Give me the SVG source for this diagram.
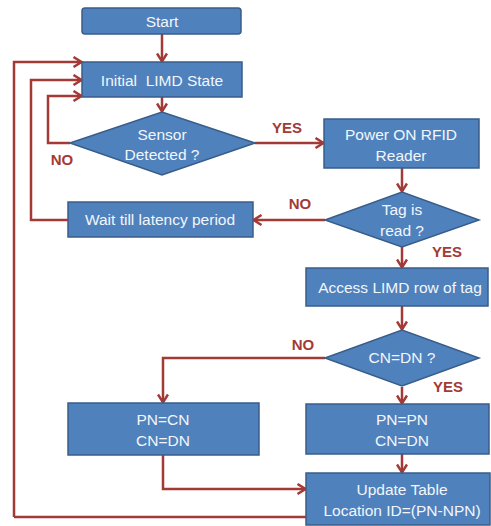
<svg xmlns="http://www.w3.org/2000/svg" width="491" height="526" viewBox="0 0 491 526">
<style>
.box{fill:#4F81BD;stroke:#385D8A;stroke-width:1.5}
.t{font-family:"Liberation Sans",Arial,sans-serif;font-size:15.5px;fill:#F2F6FB;text-anchor:middle}
.lbl{font-family:"Liberation Sans",Arial,sans-serif;font-size:15px;font-weight:bold;fill:#A33A36;text-anchor:middle}
.c{fill:none;stroke:#A33A36;stroke-width:2.5}
</style>
<defs>
<marker id="ah" markerWidth="12" markerHeight="12" refX="9" refY="6" orient="auto" markerUnits="userSpaceOnUse">
<path d="M1.5,1 L9.5,6 L1.5,11" fill="none" stroke="#A33A36" stroke-width="2.5"/>
</marker>
</defs>
<g id="connectors">
<path class="c" d="M162,34 V61" marker-end="url(#ah)"/>
<path class="c" d="M14,517 V62 H81" marker-end="url(#ah)"/>
<path class="c" d="M306,517 H14"/>
<path class="c" d="M68,220 H31 V80 H81" marker-end="url(#ah)"/>
<path class="c" d="M70,143 H48 V96 H81" marker-end="url(#ah)"/>
<path class="c" d="M162,97 V111" marker-end="url(#ah)"/>
<path class="c" d="M255,143 H323" marker-end="url(#ah)"/>
<path class="c" d="M402,168 V191" marker-end="url(#ah)"/>
<path class="c" d="M325,220 H254" marker-end="url(#ah)"/>
<path class="c" d="M402,247 V267" marker-end="url(#ah)"/>
<path class="c" d="M402,306 V329" marker-end="url(#ah)"/>
<path class="c" d="M325,358 H163 V402" marker-end="url(#ah)"/>
<path class="c" d="M402,387 V403" marker-end="url(#ah)"/>
<path class="c" d="M402,454 V472" marker-end="url(#ah)"/>
<path class="c" d="M163,455 V489 H305" marker-end="url(#ah)"/>
</g>
<g id="start"><rect class="box" x="82" y="8" width="159" height="26" rx="3"/><text class="t" x="162" y="27" font-size="18">Start</text></g>
<g id="initial"><rect class="box" x="82" y="62" width="160" height="35"/><text class="t" x="162" y="86" font-size="17.5" xml:space="preserve">Initial  LIMD State</text></g>
<g id="sensor"><polygon class="box" points="70,143 162,112 255,143 162,175"/><text class="t" x="162" y="140" font-size="15">Sensor</text><text class="t" x="162" y="160" font-size="15">Detected ?</text></g>
<g id="power"><rect class="box" x="324" y="119" width="155" height="49"/><text class="t" x="401" y="140">Power ON RFID</text><text class="t" x="401" y="161">Reader</text></g>
<g id="tag"><polygon class="box" points="325,220 402,192 479,220 402,247"/><text class="t" x="402" y="215" font-size="15">Tag is</text><text class="t" x="402" y="236" font-size="15">read ?</text></g>
<g id="wait"><rect class="box" x="68" y="202" width="185" height="35"/><text class="t" x="160" y="225">Wait till latency period</text></g>
<g id="access"><rect class="box" x="306" y="268" width="182" height="38"/><text class="t" x="400" y="293">Access LIMD row of tag</text></g>
<g id="cndn"><polygon class="box" points="325,358 402,330 479,358 402,386"/><text class="t" x="402" y="363" font-size="15">CN=DN ?</text></g>
<g id="pncn"><rect class="box" x="68" y="403" width="191" height="52"/><text class="t" x="163" y="425">PN=CN</text><text class="t" x="163" y="446">CN=DN</text></g>
<g id="pnpn"><rect class="box" x="306" y="404" width="183" height="50"/><text class="t" x="402" y="425">PN=PN</text><text class="t" x="402" y="446">CN=DN</text></g>
<g id="update"><rect class="box" x="306" y="473" width="184" height="52"/><text class="t" x="402" y="495">Update Table</text><text class="t" x="402" y="516">Location ID=(PN-NPN)</text></g>
<g id="labels">
<text class="lbl" x="62" y="165">NO</text>
<text class="lbl" x="287" y="133">YES</text>
<text class="lbl" x="300" y="209">NO</text>
<text class="lbl" x="447" y="257">YES</text>
<text class="lbl" x="303" y="350">NO</text>
<text class="lbl" x="448" y="392">YES</text>
</g>
</svg>
